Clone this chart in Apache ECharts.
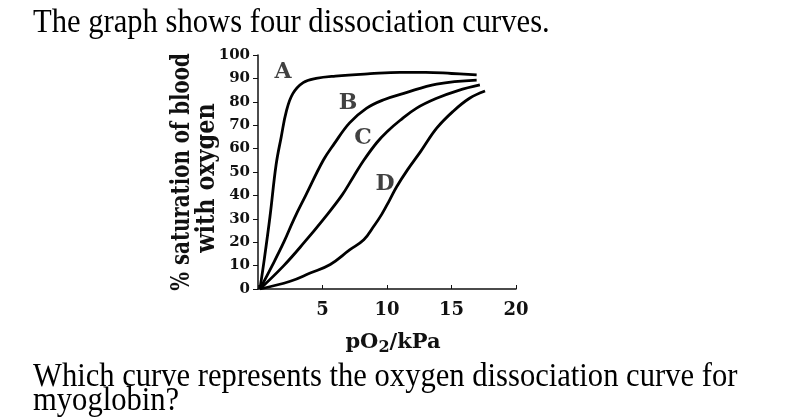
<!DOCTYPE html>
<html><head><meta charset="utf-8">
<script src="https://cdn.jsdelivr.net/npm/echarts@6/dist/echarts.min.js"></script>
<style>html,body{margin:0;padding:0;background:#fff}#c{width:805px;height:419px}</style>
</head><body><div id="c"></div>
<script>
// pO2 (kPa), % saturation
const curveA = [[0.15,0],[0.47,12],[0.93,31],[1.4,53],[1.8,65],[2.2,76],[2.7,83.5],[3.5,88.2],[4.5,90],[6,91],[8.7,92],[11,92.6],[13,92.6],[15,92.1],[16.95,91.5]];
const curveB = [[0.15,0],[1.1,10],[2.0,20],[2.8,30],[3.7,40],[5.06,55],[5.9,62],[7.1,71],[8.4,77.2],[9.7,80.8],[11.3,83.6],[13.85,87.6],[16.95,89.3]];
const curveC = [[0.15,0],[2.0,10],[3.6,20],[5.1,30],[6.5,40],[7.4,48],[8.2,55],[9.2,62.5],[10,67.2],[11,72],[12.3,77.3],[13.85,81.5],[15.5,84.8],[17.2,87.2]];
const curveD = [[0.15,0],[2.5,3.3],[4.0,6.7],[5.6,10.5],[7.1,16.7],[8.2,21],[9.0,27],[9.6,32],[10.2,38],[10.75,43.7],[11.6,51],[12.6,58.7],[13.85,68.7],[15.1,75.8],[16.4,81.5],[17.6,84.6]];
const curveNames = ['A','B','C','D'];
const curveLabelAt = [[1.94,92.7],[6.98,79.5],[8.14,64.5],[9.84,44.7]];
const xTickLabels = ['', '5', '10', '15', '20'];
const titleText = 'The graph shows four dissociation curves.';
const questionLines = ['Which curve represents the oxygen dissociation curve for', 'myoglobin?'];
const yTitleLines = ['% saturation of blood', 'with oxygen'];

const chart = echarts.init(document.getElementById('c'), null, {renderer:'canvas'});
const boldSerif = 'DejaVu Serif';
const curves = [curveA, curveB, curveC, curveD];
const series = curves.map((d, i) => ({
  type: 'line', name: curveNames[i], data: d, smooth: 0.4, symbol: 'none',
  lineStyle: {color: '#000', width: 2.8}, z: 3
}));
series.push({
  type: 'scatter', data: curveLabelAt.map((p, i) => ({value: p, name: curveNames[i]})),
  symbolSize: 1, itemStyle: {color: 'rgba(0,0,0,0)'},
  label: {show: true, position: 'inside', formatter: p => p.name,
    fontFamily: boldSerif, fontWeight: 'bold', fontSize: 22, color: '#111'}
});
const serifText = (txt, x, y) => ({
  type: 'text', x: x, y: y, scaleX: 0.9,
  style: {text: txt, font: '34px "Liberation Serif"', fill: '#000', align: 'left', verticalAlign: 'middle'}
});
const yTitle = (txt, x, y, sx) => ({
  type: 'text', x: x, y: y, rotation: Math.PI / 2, scaleX: sx,
  style: {text: txt, font: 'bold 26px "DejaVu Serif"', fill: '#111', align: 'center', verticalAlign: 'middle'}
});
chart.setOption({
  animation: false,
  grid: {left: 258, top: 55, width: 258, height: 234},
  xAxis: {
    type: 'value', min: 0, max: 20, interval: 5,
    axisLine: {lineStyle: {color: '#111', width: 1.5}},
    axisTick: {show: true, inside: true, length: 4, lineStyle: {color: '#111'}},
    splitLine: {show: false},
    axisLabel: {formatter: v => xTickLabels[v / 5], fontFamily: boldSerif, fontWeight: 'bold', fontSize: 18, color: '#111', margin: 12},
    name: '{a|pO}{s|2}{a|/kPa}', nameLocation: 'middle', nameGap: 41,
    nameTextStyle: {padding: [0, 0, 0, 12], rich: {
      a: {fontFamily: boldSerif, fontWeight: 'bold', fontSize: 21, color: '#111', lineHeight: 26},
      s: {fontFamily: boldSerif, fontWeight: 'bold', fontSize: 16, color: '#111', lineHeight: 16, verticalAlign: 'bottom'}
    }}
  },
  yAxis: {
    type: 'value', min: 0, max: 100, interval: 10,
    axisLine: {show: true, lineStyle: {color: '#111', width: 1.5}},
    axisTick: {show: true, length: 5, lineStyle: {color: '#111'}},
    splitLine: {show: false},
    axisLabel: {fontFamily: boldSerif, fontWeight: 'bold', fontSize: 15, color: '#111', margin: 8}
  },
  graphic: [
    serifText(titleText, 33, 23),
    serifText(questionLines[0], 33, 377),
    serifText(questionLines[1], 33, 401),
    yTitle(yTitleLines[0], 182, 172, 0.76),
    yTitle(yTitleLines[1], 207, 178, 0.86)
  ],
  series: series
});
</script></body></html>
